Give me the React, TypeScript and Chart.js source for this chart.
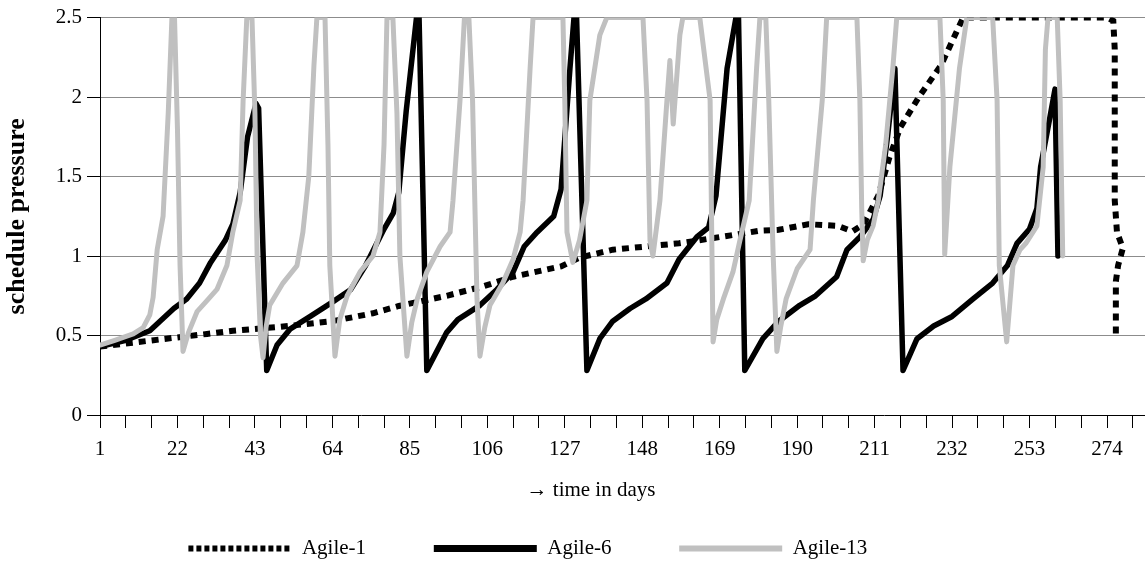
import { useEffect, useRef } from 'react';
import { Chart, registerables } from 'chart.js';

Chart.register(...registerables);

const FONT = "'Liberation Serif', 'Times New Roman', serif";

const seriesNames = ['Agile-1', 'Agile-6', 'Agile-13'];
const legendSpaces = [11, 11, 17];

// x axis: tick marks every 7 days, labels every 21 days
const tickDays = [1, 8, 15, 22, 29, 36, 43, 50, 57, 64, 71, 78, 85, 92, 99, 106, 113, 120, 127, 134, 141, 148, 155, 162, 169, 176, 183, 190, 197, 204, 211, 218, 225, 232, 239, 246, 253, 260, 267, 274, 281];
const labeledDays = [1, 22, 43, 64, 85, 106, 127, 148, 169, 190, 211, 232, 253, 274];

// Agile-1 (dotted)
const agile1Days = [1, 8, 19, 30, 37, 50, 64, 75, 82, 95, 105, 113, 126, 131, 140, 158, 172, 180, 185, 193, 201, 205, 208, 212, 215, 218, 223, 229, 235, 255, 274, 275.7, 276.1, 276.1, 276.7, 278.3, 277, 276.4, 276.4];
const agile1Vals = [0.43, 0.45, 0.48, 0.51, 0.53, 0.555, 0.59, 0.64, 0.686, 0.75, 0.81, 0.87, 0.935, 0.99, 1.04, 1.08, 1.13, 1.16, 1.165, 1.2, 1.19, 1.155, 1.2, 1.38, 1.62, 1.81, 2.0, 2.2, 2.5, 2.5, 2.5, 2.48, 2.3, 1.35, 1.15, 1.05, 0.94, 0.84, 0.5];

// Agile-6 (black)
const agile6Days = [1, 8, 14.5, 21, 24.5, 28, 31, 35, 37, 39, 41, 43.3, 44, 46.2, 49, 52.5, 58, 64, 69, 73, 78, 80.5, 82, 84, 86.8, 87.5, 89.6, 95, 98, 104, 108.6, 113, 116, 119.5, 124, 126, 128.4, 129.5, 130.2, 133, 136.5, 140, 144.7, 149, 154.7, 158, 162.8, 166, 168, 171, 173.4, 174.1, 175.8, 180.7, 185, 190.7, 195, 200.7, 203.5, 207, 210.6, 212.5, 214.6, 216.5, 218.7, 222.5, 227, 232, 237.7, 243, 247, 249.6, 253, 255, 256, 258.5, 259.9, 260.7];
const agile6Vals = [0.43, 0.47, 0.53, 0.67, 0.73, 0.83, 0.96, 1.1, 1.2, 1.4, 1.75, 1.96, 1.93, 0.28, 0.44, 0.54, 0.62, 0.71, 0.79, 0.94, 1.17, 1.27, 1.4, 1.91, 2.5, 2.5, 0.28, 0.52, 0.6, 0.69, 0.79, 0.9, 1.06, 1.15, 1.25, 1.42, 2.18, 2.5, 2.5, 0.28, 0.48, 0.59, 0.67, 0.73, 0.83, 0.98, 1.12, 1.18, 1.38, 2.18, 2.5, 2.5, 0.28, 0.48, 0.59, 0.69, 0.75, 0.87, 1.04, 1.12, 1.23, 1.38, 1.77, 2.18, 0.28, 0.48, 0.56, 0.62, 0.73, 0.83, 0.94, 1.08, 1.17, 1.3, 1.56, 1.87, 2.05, 1.0];

// Agile-13 (grey)
const agile13Days = [
  1, 5, 10, 12.7, 14.5, 15.4, 16.5, 18.1, 19.5, 20.5, 21.2, 22, 22.7, 23.5,
  25, 27.3, 30, 32.7, 35.4, 37, 39, 39.8, 40.8, 42.2, 43, 43.6, 44.5, 45.2,
  46, 47, 50.6, 54.4, 56, 57.6, 59, 59.8, 62, 62.8, 63.3, 64.7,
  66, 68, 71.5, 75, 76.9, 78, 78.8, 80.4, 81.5, 82.3, 84.2,
  85.5, 87, 89.6, 93.2, 95.9, 96.7, 98.6, 99.8, 101, 102, 103.2, 104,
  105.3, 106.7, 110.2, 113, 114.9, 115.7, 117.6, 118.4, 126.5, 127, 127.6, 129.2,
  131, 133, 133.8, 136.5, 138.4, 148.2, 149.3, 150.1, 150.9,
  152.8, 154.7, 155.5, 156.4, 158.2, 159, 163.6, 166.4, 167.2,
  168.2, 170, 172.6, 174.5, 177, 179, 179.9, 181.5, 182.3, 183.5, 184.5,
  185.5, 187, 190, 193.5, 194.4, 196.8, 198, 206.2, 207, 207.5, 207.9,
  209, 210.6, 212, 214, 216, 217, 228.7, 229.6, 230,
  231.4, 234, 236, 243, 244.2, 244.8, 246.8,
  248.5, 250.4, 252, 255, 256.7, 257.3, 258, 260.5, 261.3, 262,
];
const agile13Vals = [
  0.44, 0.47, 0.51, 0.55, 0.63, 0.74, 1.04, 1.25, 1.9, 2.5, 2.5, 1.8, 0.94, 0.4,
  0.52, 0.65, 0.72, 0.79, 0.94, 1.15, 1.35, 1.98, 2.5, 2.5, 1.9, 1.0, 0.5, 0.36,
  0.55, 0.69, 0.83, 0.94, 1.15, 1.5, 2.2, 2.5, 2.5, 1.7, 0.94, 0.37,
  0.6, 0.75, 0.9, 1.0, 1.15, 1.7, 2.5, 2.5, 1.9, 1.0, 0.37,
  0.58, 0.73, 0.9, 1.06, 1.15, 1.35, 1.98, 2.5, 2.5, 1.98, 0.73, 0.37,
  0.55, 0.69, 0.83, 0.98, 1.15, 1.35, 2.18, 2.5, 2.5, 1.98, 1.15, 0.96,
  1.1, 1.35, 1.98, 2.39, 2.5, 2.5, 1.98, 1.1, 1.0,
  1.35, 1.98, 2.23, 1.83, 2.39, 2.5, 2.5, 1.98, 0.46,
  0.6, 0.73, 0.9, 1.1, 1.35, 2.18, 2.5, 2.5, 1.98, 1.0, 0.4,
  0.55, 0.73, 0.92, 1.04, 1.35, 1.98, 2.5, 2.5, 1.98, 1.3, 0.97,
  1.1, 1.19, 1.35, 1.7, 2.2, 2.5, 2.5, 1.98, 1.01,
  1.56, 2.18, 2.5, 2.5, 1.98, 0.94, 0.46,
  0.94, 1.04, 1.08, 1.19, 1.56, 2.3, 2.5, 2.5, 1.98, 1.0,
];

const toPoints = (days: number[], vals: number[]) => days.map((d, i) => ({ x: d, y: vals[i] }));

export default function App() {
  const ref = useRef<HTMLCanvasElement>(null);

  useEffect(() => {
    const canvas = ref.current;
    if (!canvas) return;
    Chart.defaults.font.family = FONT;
    Chart.defaults.color = '#000';

    const legendStyles = [
      { strokeStyle: '#000000', lineWidth: 6, lineDash: [5, 3], lineCap: 'butt' },
      { strokeStyle: '#000000', lineWidth: 7, lineDash: [], lineCap: 'butt' },
      { strokeStyle: '#c0c0c0', lineWidth: 6, lineDash: [], lineCap: 'butt' },
    ];

    const chart = new Chart(canvas, {
      type: 'line',
      data: {
        datasets: [
          {
            label: seriesNames[0],
            data: toPoints(agile1Days, agile1Vals),
            borderColor: '#000000',
            borderWidth: 6,
            borderDash: [7, 6],
            borderCapStyle: 'butt',
            borderJoinStyle: 'miter',
            pointRadius: 0,
            tension: 0,
            order: 3,
          },
          {
            label: seriesNames[1],
            data: toPoints(agile6Days, agile6Vals),
            borderColor: '#000000',
            borderWidth: 5.5,
            borderCapStyle: 'round',
            borderJoinStyle: 'round',
            pointRadius: 0,
            tension: 0,
            order: 2,
          },
          {
            label: seriesNames[2],
            data: toPoints(agile13Days, agile13Vals),
            borderColor: '#c0c0c0',
            borderWidth: 5,
            borderCapStyle: 'round',
            borderJoinStyle: 'round',
            pointRadius: 0,
            tension: 0,
            order: 1,
          },
        ],
      },
      options: {
        responsive: false,
        animation: false,
        events: [],
        layout: { padding: { top: 16, left: 0, right: 0, bottom: -6 } },
        scales: {
          x: {
            type: 'linear',
            min: 1,
            max: 284.3,
            afterBuildTicks: (scale: any) => {
              scale.ticks = tickDays.map((v) => ({ value: v }));
            },
            afterFit: (scale: any) => {
              scale.height = 113;
            },
            ticks: {
              autoSkip: false,
              maxRotation: 0,
              padding: 9,
              color: '#000',
              font: { family: FONT, size: 21 },
              callback: (value: any) => (labeledDays.includes(Number(value)) ? String(value) : ''),
            },
            grid: {
              display: true,
              drawOnChartArea: false,
              drawTicks: true,
              tickLength: 13,
              color: '#000',
              lineWidth: 1,
            },
            border: { display: true, color: '#000', width: 1 },
            title: {
              display: true,
              text: '\u2192 time in days' + ' '.repeat(12),
              color: '#000',
              font: { family: FONT, size: 21 },
              padding: { top: 0, bottom: 25 },
            },
          },
          y: {
            min: 0,
            max: 2.5,
            afterFit: (scale: any) => {
              scale.width = 100;
            },
            ticks: {
              stepSize: 0.5,
              padding: 5,
              color: '#000',
              font: { family: FONT, size: 21 },
              callback: (value: any) => String(Number(value)),
            },
            grid: {
              color: (ctx: any) => (ctx.tick && ctx.tick.value === 0 ? 'rgba(0,0,0,0)' : '#8c8c8c'),
              tickColor: '#000',
              tickLength: 13,
              lineWidth: 1,
            },
            border: { display: true, color: '#000', width: 1 },
            title: {
              display: true,
              text: 'schedule pressure',
              color: '#000',
              font: { family: FONT, size: 26, weight: 'bold' },
              padding: { top: 2, bottom: 0 },
            },
          },
        },
        plugins: {
          tooltip: { enabled: false },
          legend: {
            display: true,
            position: 'bottom',
            align: 'center',
            labels: {
              usePointStyle: true,
              pointStyle: 'line',
              pointStyleWidth: 103,
              boxHeight: 6,
              padding: 10,
              color: '#000',
              font: { family: FONT, size: 21 },
              sort: (a: any, b: any) => a.datasetIndex - b.datasetIndex,
              generateLabels: (c: any) => {
                const items = (Chart.defaults.plugins.legend.labels as any).generateLabels(c);
                return items.map((it: any) => {
                  const idx = it.datasetIndex;
                  return {
                    ...it,
                    ...legendStyles[idx],
                    pointStyle: 'line',
                    text: seriesNames[idx] + ' '.repeat(legendSpaces[idx]),
                  };
                });
              },
            },
          },
        },
      } as any,
    });

    return () => chart.destroy();
  }, []);

  return (
    <div style={{ position: 'absolute', left: 0, top: 0, width: 1145, height: 563, background: '#fff' }}>
      <canvas ref={ref} width={1145} height={563} style={{ display: 'block' }} />
    </div>
  );
}
